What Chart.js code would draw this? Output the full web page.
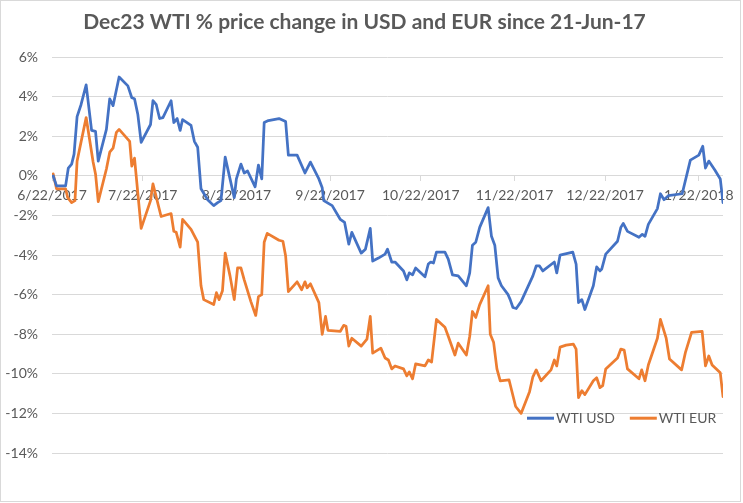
<!DOCTYPE html>
<html>
<head>
<meta charset="utf-8">
<script src="https://cdn.jsdelivr.net/npm/chart.js@4.4.1/dist/chart.umd.min.js"></script>
<style>
  body { margin: 0; background: #fff; }
  #wrap { position: absolute; left: 0; top: 0; width: 739px; height: 500px; border: 1px solid #d9d9d9; }
</style>
</head>
<body>
<div id="wrap"><canvas id="chartWti"></canvas></div>
<script>
// dias desde 22-jun-2017
const usdDays = [0.4, 1.5, 4.5, 5.4, 6.5, 7.3, 8.3, 9.6, 11.3, 13.1, 14.4, 15.3, 18.0, 19.1, 20.2, 22.2, 25.1, 26.4, 27.3, 28.4,
    29.5, 32.6, 33.4, 34.5, 35.6, 36.7, 39.4, 40.3, 41.4, 42.4, 43.2, 46.0, 47.1, 48.2, 49.3, 51.5, 53.5, 54.8, 55.9, 57.3,
    58.9, 60.3, 61.0, 62.5, 63.6, 64.7, 67.2, 68.3, 69.4, 70.2, 71.6, 75.1, 77.3, 78.2, 81.1, 83.7, 85.5, 88.3, 89.4, 89.9,
    92.7, 95.4, 96.8, 98.2, 99.2, 102.3, 103.7, 105.3, 106.1, 108.0, 110.2, 111.0, 112.4, 113.5, 116.3, 117.4, 118.2, 119.3, 120.3, 123.4,
    124.5, 125.3, 126.2, 127.2, 130.0, 131.1, 132.5, 134.4, 137.1, 138.2, 139.1, 140.2, 141.5, 144.3, 145.4, 146.5, 147.6, 148.7, 150.9, 151.6,
    152.5, 153.6, 155.2, 159.1, 160.2, 161.3, 162.4, 166.2, 167.0, 168.1, 172.3, 173.4, 174.2, 175.3, 176.3, 179.1, 180.2, 181.3, 181.9, 183.2,
    187.1, 188.2, 189.0, 190.4, 194.2, 195.3, 196.2, 197.3, 200.3, 201.3, 202.5, 203.9, 208.5, 211.2, 214.0, 215.3, 216.2, 217.3, 219.3, 221.1,
    222.0];
const usdChange = [0, -0.5, -0.5, 0.4, 0.6, 1.1, 3.0, 3.6, 4.6, 2.3, 2.25, 0.75, 2.35, 3.9, 3.55, 5.0, 4.55, 3.95, 3.9, 3.1,
    1.7, 2.6, 3.8, 3.6, 2.9, 2.95, 3.8, 2.7, 2.9, 2.3, 2.85, 2.55, 1.75, 1.45, -0.65, -1.2, -1.5, -1.35, -1.25, 0.95,
    -0.15, -1.1, -0.15, 0.6, 0.15, 0.25, -0.55, 0.55, -0.15, 2.7, 2.8, 2.9, 2.75, 1.05, 1.05, 0.15, 0.7, -0.15, -0.6, -1.25,
    -1.5, -2.2, -2.35, -3.45, -2.85, -3.9, -3.7, -2.65, -4.3, -4.15, -3.95, -3.7, -4.35, -4.35, -4.8, -5.25, -4.9, -5.0, -4.65, -5.1,
    -4.45, -4.35, -4.4, -3.85, -3.85, -4.2, -5.0, -5.05, -5.55, -4.9, -3.5, -3.35, -2.6, -1.6, -3.05, -3.5, -5.15, -5.55, -6.0, -6.25,
    -6.65, -6.7, -6.35, -5.05, -4.55, -4.55, -4.8, -4.35, -4.9, -4.0, -3.85, -4.45, -6.4, -6.25, -6.75, -5.55, -4.6, -4.8, -4.7, -3.95,
    -3.3, -2.6, -2.4, -2.8, -3.1, -2.95, -3.05, -2.45, -1.65, -0.9, -1.2, -1.0, -0.9, 0.8, 1.05, 1.5, 0.4, 0.75, 0.3, -0.15,
    -1.35];

const eurDays = [0.4, 1.5, 4.5, 5.2, 6.5, 7.6, 8.3, 11.3, 13.6, 14.4, 15.3, 18.0, 19.1, 20.2, 21.3, 22.2, 25.7, 26.4, 27.3, 29.5,
    32.6, 33.4, 36.1, 39.4, 40.3, 41.1, 42.4, 43.2, 46.0, 48.2, 49.3, 50.2, 53.5, 54.4, 55.3, 56.4, 57.3, 58.9, 60.3, 61.4,
    62.5, 63.6, 65.8, 67.4, 68.3, 69.4, 70.2, 71.2, 75.1, 76.4, 77.3, 78.2, 81.1, 82.6, 83.7, 84.4, 85.5, 88.3, 89.4, 90.5,
    91.3, 95.4, 96.5, 97.3, 98.2, 99.2, 102.3, 104.2, 105.3, 106.1, 108.8, 110.2, 111.3, 112.4, 113.5, 116.3, 117.4, 118.2, 119.3, 120.3,
    123.4, 124.5, 125.6, 127.2, 130.0, 131.1, 133.3, 134.4, 137.1, 138.2, 139.1, 140.2, 141.5, 144.3, 145.0, 146.1, 147.2, 148.3, 151.2, 153.4,
    155.2, 158.0, 159.1, 160.2, 161.8, 165.1, 166.2, 167.0, 168.1, 170.1, 172.5, 173.4, 174.2, 175.3, 176.3, 179.1, 180.2, 181.3, 182.2, 183.2,
    187.1, 188.2, 189.3, 190.4, 194.2, 195.1, 196.2, 197.3, 200.3, 201.3, 203.2, 204.3, 208.3, 209.6, 211.6, 215.1, 216.2, 217.3, 218.4, 221.1,
    222.0];
const eurChange = [0.1, -0.65, -0.65, -1.1, -1.35, -1.25, 0.75, 2.95, 0.7, 0.1, -1.3, 0.35, 1.2, 1.4, 2.2, 2.35, 1.75, 0.5, 0.9, -2.65,
    -1.25, -0.4, -2.05, -1.9, -2.8, -2.85, -3.6, -2.2, -2.7, -3.35, -5.55, -6.25, -6.5, -5.9, -6.25, -5.8, -3.9, -5.05, -6.25, -4.65,
    -4.65, -5.25, -6.35, -7.05, -6.1, -6.0, -3.35, -2.9, -3.25, -3.3, -4.05, -5.85, -5.35, -5.75, -5.35, -5.65, -5.45, -6.4, -8.0, -7.1,
    -7.8, -7.85, -7.55, -7.6, -8.6, -8.2, -8.6, -8.25, -7.1, -8.95, -8.7, -9.2, -9.3, -9.75, -9.6, -9.75, -10.1, -9.9, -10.25, -9.5,
    -9.6, -9.3, -9.4, -7.25, -7.65, -8.1, -9.05, -8.45, -9.05, -8.1, -6.85, -7.15, -6.5, -5.55, -8.0, -8.4, -9.75, -10.35, -10.3, -11.65,
    -12.0, -10.9, -10.15, -9.8, -10.35, -9.8, -9.3, -9.6, -8.65, -8.55, -8.5, -8.75, -11.2, -10.85, -11.05, -10.35, -10.2, -10.7, -10.6, -9.75,
    -9.2, -8.75, -8.8, -9.75, -10.25, -9.8, -10.35, -9.55, -8.2, -7.25, -8.2, -9.25, -9.8, -8.9, -7.9, -7.85, -9.6, -9.1, -9.55, -9.95,
    -11.15];

const tickDays = [0, 30, 61, 92, 122, 153, 183, 214];
const tickLabels = ["6/22/2017", "7/22/2017", "8/22/2017", "9/22/2017", "10/22/2017", "11/22/2017", "12/22/2017", "1/22/2018"];

const corTexto = "#595959";
const corGrade = "#d9d9d9";
const fonte = "Lato, 'Liberation Sans', sans-serif";

function pontos(dias, valores) {
    return dias.map((d, i) => ({ x: d, y: valores[i] }));
}

// legenda dentro da área do gráfico, como no Excel
const legendaInterna = {
    id: "legendaInterna",
    afterDraw(chart) {
        const ctx = chart.ctx;
        const area = chart.chartArea;
        let x = area.left + 475;
        const y = area.top + 361;
        ctx.save();
        ctx.font = "14px " + fonte;
        ctx.textBaseline = "middle";
        chart.data.datasets.forEach((ds) => {
            ctx.strokeStyle = ds.borderColor;
            ctx.lineWidth = 3;
            ctx.beginPath();
            ctx.moveTo(x, y);
            ctx.lineTo(x + 27, y);
            ctx.stroke();
            ctx.fillStyle = corTexto;
            ctx.fillText(ds.label, x + 29, y);
            x += 29 + ctx.measureText(ds.label).width + 15;
        });
        ctx.restore();
    },
};

const ctx = document.getElementById("chartWti");

new Chart(ctx, {
    type: "line",
    data: {
        datasets: [
            {
                label: "WTI USD",
                data: pontos(usdDays, usdChange),
                borderColor: "#4472C4",
                borderWidth: 2.75,
                pointRadius: 0,
                tension: 0,
                borderJoinStyle: "round",
                borderCapStyle: "round",
            },
            {
                label: "WTI EUR",
                data: pontos(eurDays, eurChange),
                borderColor: "#ED7D31",
                borderWidth: 2.75,
                pointRadius: 0,
                tension: 0,
                borderJoinStyle: "round",
                borderCapStyle: "round",
            },
        ],
    },
    options: {
        responsive: true,
        maintainAspectRatio: false,
        animation: false,
        layout: {
            padding: { left: 0, right: 12, top: 0, bottom: 48 },
        },
        plugins: {
            legend: { display: false },
            tooltip: { enabled: false },
            title: {
                display: true,
                text: "Dec23 WTI % price change in USD and EUR since 21-Jun-17",
                color: corTexto,
                font: { family: fonte, size: 21, weight: "bold" },
                padding: { top: 9, bottom: 22 },
            },
        },
        scales: {
            x: {
                type: "linear",
                position: { y: 0 },
                min: 0,
                max: 222,
                afterBuildTicks: (scale) => {
                    scale.ticks = tickDays.map((d) => ({ value: d }));
                },
                ticks: {
                    color: corTexto,
                    font: { family: fonte, size: 14 },
                    padding: 6,
                    maxRotation: 0,
                    autoSkip: false,
                    callback: (value) => tickLabels[tickDays.indexOf(value)],
                },
                grid: {
                    drawOnChartArea: false,
                    color: corGrade,
                    tickLength: 5,
                },
                border: { color: corGrade },
            },
            y: {
                min: -14,
                max: 6,
                afterFit: (scale) => {
                    scale.width = 51;
                },
                ticks: {
                    stepSize: 2,
                    color: corTexto,
                    font: { family: fonte, size: 14 },
                    padding: 14,
                    callback: (value) => value + "%",
                },
                grid: {
                    color: corGrade,
                    drawTicks: false,
                },
                border: { display: false },
            },
        },
    },
    plugins: [legendaInterna],
});
</script>
</body>
</html>
